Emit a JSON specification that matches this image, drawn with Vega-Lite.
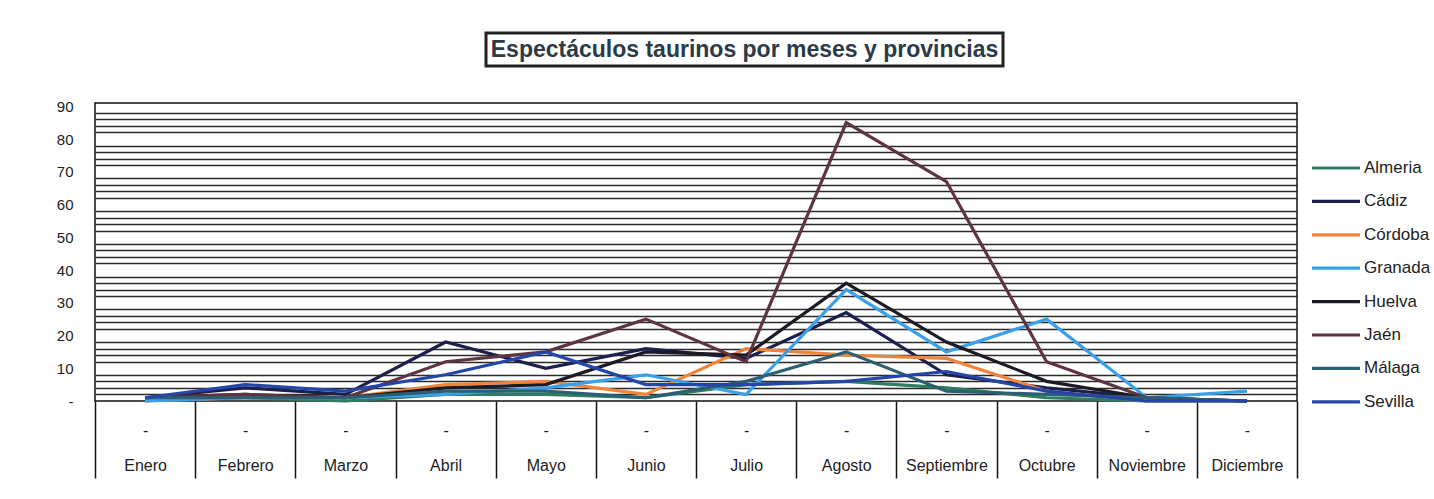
{
  "$schema": "https://vega.github.io/schema/vega-lite/v6.json",
  "padding": {"left": 55, "top": 31, "right": 0, "bottom": 0},
  "background": "white",
  "config": {"font": "Liberation Sans", "view": {"stroke": null}},
  "datasets": {
    "d": [
      {"mes": "Enero", "provincia": "Almeria", "v": 1}, {"mes": "Febrero", "provincia": "Almeria", "v": 1}, {"mes": "Marzo", "provincia": "Almeria", "v": 0}, {"mes": "Abril", "provincia": "Almeria", "v": 2}, {"mes": "Mayo", "provincia": "Almeria", "v": 2}, {"mes": "Junio", "provincia": "Almeria", "v": 1}, {"mes": "Julio", "provincia": "Almeria", "v": 5}, {"mes": "Agosto", "provincia": "Almeria", "v": 6}, {"mes": "Septiembre", "provincia": "Almeria", "v": 4}, {"mes": "Octubre", "provincia": "Almeria", "v": 1}, {"mes": "Noviembre", "provincia": "Almeria", "v": 0}, {"mes": "Diciembre", "provincia": "Almeria", "v": 0},
      {"mes": "Enero", "provincia": "Cádiz", "v": 1}, {"mes": "Febrero", "provincia": "Cádiz", "v": 4}, {"mes": "Marzo", "provincia": "Cádiz", "v": 2}, {"mes": "Abril", "provincia": "Cádiz", "v": 18}, {"mes": "Mayo", "provincia": "Cádiz", "v": 10}, {"mes": "Junio", "provincia": "Cádiz", "v": 16}, {"mes": "Julio", "provincia": "Cádiz", "v": 13}, {"mes": "Agosto", "provincia": "Cádiz", "v": 27}, {"mes": "Septiembre", "provincia": "Cádiz", "v": 8}, {"mes": "Octubre", "provincia": "Cádiz", "v": 4}, {"mes": "Noviembre", "provincia": "Cádiz", "v": 1}, {"mes": "Diciembre", "provincia": "Cádiz", "v": 0},
      {"mes": "Enero", "provincia": "Córdoba", "v": 0}, {"mes": "Febrero", "provincia": "Córdoba", "v": 1}, {"mes": "Marzo", "provincia": "Córdoba", "v": 1}, {"mes": "Abril", "provincia": "Córdoba", "v": 5}, {"mes": "Mayo", "provincia": "Córdoba", "v": 6}, {"mes": "Junio", "provincia": "Córdoba", "v": 2}, {"mes": "Julio", "provincia": "Córdoba", "v": 16}, {"mes": "Agosto", "provincia": "Córdoba", "v": 14}, {"mes": "Septiembre", "provincia": "Córdoba", "v": 13}, {"mes": "Octubre", "provincia": "Córdoba", "v": 3}, {"mes": "Noviembre", "provincia": "Córdoba", "v": 0}, {"mes": "Diciembre", "provincia": "Córdoba", "v": 0},
      {"mes": "Enero", "provincia": "Granada", "v": 0}, {"mes": "Febrero", "provincia": "Granada", "v": 1}, {"mes": "Marzo", "provincia": "Granada", "v": 1}, {"mes": "Abril", "provincia": "Granada", "v": 2}, {"mes": "Mayo", "provincia": "Granada", "v": 4}, {"mes": "Junio", "provincia": "Granada", "v": 8}, {"mes": "Julio", "provincia": "Granada", "v": 2}, {"mes": "Agosto", "provincia": "Granada", "v": 34}, {"mes": "Septiembre", "provincia": "Granada", "v": 15}, {"mes": "Octubre", "provincia": "Granada", "v": 25}, {"mes": "Noviembre", "provincia": "Granada", "v": 1}, {"mes": "Diciembre", "provincia": "Granada", "v": 3},
      {"mes": "Enero", "provincia": "Huelva", "v": 1}, {"mes": "Febrero", "provincia": "Huelva", "v": 2}, {"mes": "Marzo", "provincia": "Huelva", "v": 1}, {"mes": "Abril", "provincia": "Huelva", "v": 4}, {"mes": "Mayo", "provincia": "Huelva", "v": 5}, {"mes": "Junio", "provincia": "Huelva", "v": 15}, {"mes": "Julio", "provincia": "Huelva", "v": 14}, {"mes": "Agosto", "provincia": "Huelva", "v": 36}, {"mes": "Septiembre", "provincia": "Huelva", "v": 18}, {"mes": "Octubre", "provincia": "Huelva", "v": 6}, {"mes": "Noviembre", "provincia": "Huelva", "v": 1}, {"mes": "Diciembre", "provincia": "Huelva", "v": 0},
      {"mes": "Enero", "provincia": "Jaén", "v": 1}, {"mes": "Febrero", "provincia": "Jaén", "v": 2}, {"mes": "Marzo", "provincia": "Jaén", "v": 1}, {"mes": "Abril", "provincia": "Jaén", "v": 12}, {"mes": "Mayo", "provincia": "Jaén", "v": 15}, {"mes": "Junio", "provincia": "Jaén", "v": 25}, {"mes": "Julio", "provincia": "Jaén", "v": 12}, {"mes": "Agosto", "provincia": "Jaén", "v": 85}, {"mes": "Septiembre", "provincia": "Jaén", "v": 67}, {"mes": "Octubre", "provincia": "Jaén", "v": 12}, {"mes": "Noviembre", "provincia": "Jaén", "v": 1}, {"mes": "Diciembre", "provincia": "Jaén", "v": 0},
      {"mes": "Enero", "provincia": "Málaga", "v": 1}, {"mes": "Febrero", "provincia": "Málaga", "v": 1}, {"mes": "Marzo", "provincia": "Málaga", "v": 1}, {"mes": "Abril", "provincia": "Málaga", "v": 3}, {"mes": "Mayo", "provincia": "Málaga", "v": 3}, {"mes": "Junio", "provincia": "Málaga", "v": 1}, {"mes": "Julio", "provincia": "Málaga", "v": 6}, {"mes": "Agosto", "provincia": "Málaga", "v": 15}, {"mes": "Septiembre", "provincia": "Málaga", "v": 3}, {"mes": "Octubre", "provincia": "Málaga", "v": 2}, {"mes": "Noviembre", "provincia": "Málaga", "v": 1}, {"mes": "Diciembre", "provincia": "Málaga", "v": 0},
      {"mes": "Enero", "provincia": "Sevilla", "v": 1}, {"mes": "Febrero", "provincia": "Sevilla", "v": 5}, {"mes": "Marzo", "provincia": "Sevilla", "v": 3}, {"mes": "Abril", "provincia": "Sevilla", "v": 8}, {"mes": "Mayo", "provincia": "Sevilla", "v": 15}, {"mes": "Junio", "provincia": "Sevilla", "v": 5}, {"mes": "Julio", "provincia": "Sevilla", "v": 5}, {"mes": "Agosto", "provincia": "Sevilla", "v": 6}, {"mes": "Septiembre", "provincia": "Sevilla", "v": 9}, {"mes": "Octubre", "provincia": "Sevilla", "v": 3}, {"mes": "Noviembre", "provincia": "Sevilla", "v": 0}, {"mes": "Diciembre", "provincia": "Sevilla", "v": 0}
    ]
  },
  "spacing": 30,
  "vconcat": [
    {
      "spacing": 0,
      "hconcat": [
        {"width": 389, "height": 33, "data": {"values": []}, "mark": "text", "encoding": {}},
        {
          "width": 517, "height": 33,
          "data": {"values": [{"t": "Espectáculos taurinos por meses y provincias"}]},
          "view": {"stroke": "#222", "strokeWidth": 3},
          "mark": {"type": "text", "fontSize": 23, "fontWeight": "bold", "color": "#2b3a47", "baseline": "middle", "align": "center"},
          "encoding": {"text": {"field": "t"}}
        }
      ]
    },
    {
      "width": 1202, "height": 298,
      "data": {"name": "d"},
      "view": {"stroke": "#111", "strokeWidth": 1.5},
      "encoding": {
        "x": {
          "field": "mes", "type": "nominal", "bandPosition": 0.5,
          "sort": ["Enero", "Febrero", "Marzo", "Abril", "Mayo", "Junio", "Julio", "Agosto", "Septiembre", "Octubre", "Noviembre", "Diciembre"],
          "scale": {"type": "band", "paddingInner": 0, "paddingOuter": 0},
          "axis": {
            "title": null, "orient": "bottom", "domain": false, "tickBand": "extent", "tickSize": 77, "tickWidth": 1.5, "tickColor": "#111",
            "labelExpr": "datum.label ? ['-', datum.label] : ''", "labelLineHeight": 35, "labelPadding": -56, "labelFontSize": 16, "labelColor": "#222", "labelAngle": 0
          }
        }
      },
      "layer": [
        {
          "mark": {"type": "line", "strokeOpacity": 0},
          "encoding": {
            "y": {
              "field": "v", "type": "quantitative", "scale": {"domain": [0, 91], "nice": false},
              "axis": {"orient": "right", "title": null, "labels": false, "ticks": false, "domain": false, "grid": true, "gridColor": "#2a2a2a", "gridWidth": 1.3,
                "values": [2, 4, 6, 8, 12, 14, 16, 18, 22, 24, 26, 28, 32, 34, 36, 38, 42, 44, 46, 48, 52, 54, 56, 58, 62, 64, 66, 68, 72, 74, 76, 78, 82, 84, 86, 88]}
            },
            "detail": {"field": "provincia"}
          }
        },
        {
          "mark": {"type": "line", "strokeWidth": 3.2},
          "encoding": {
            "y": {
              "field": "v", "type": "quantitative", "scale": {"domain": [0, 91], "nice": false},
              "axis": {"orient": "left", "title": null, "grid": false, "ticks": false, "domain": false, "values": [0, 10, 20, 30, 40, 50, 60, 70, 80, 90],
                "labelExpr": "datum.value == 0 ? '-' : datum.label", "labelPadding": 22, "labelFontSize": 15, "labelColor": "#222"}
            },
            "color": {
              "field": "provincia", "type": "nominal",
              "scale": {
                "domain": ["Almeria", "Cádiz", "Córdoba", "Granada", "Huelva", "Jaén", "Málaga", "Sevilla"],
                "range": ["#2e7d5e", "#1b1f4b", "#f0843a", "#3aa0e8", "#1c1a24", "#5e3440", "#2b5f73", "#2346a8"]
              },
              "legend": {
                "title": null, "orient": "none", "legendX": 1215, "legendY": 125,
                "symbolType": "stroke", "symbolSize": 2300, "symbolStrokeWidth": 3.2, "clipHeight": 20, "rowPadding": 13.4,
                "labelFontSize": 17, "labelColor": "#222", "labelOffset": 2
              }
            }
          }
        }
      ],
      "resolve": {"axis": {"y": "independent"}}
    }
  ]
}
